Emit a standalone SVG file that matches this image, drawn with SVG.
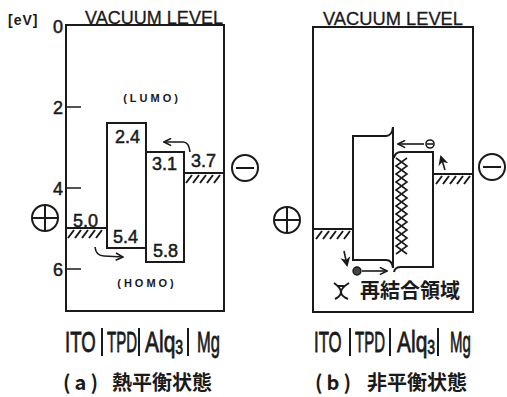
<svg xmlns="http://www.w3.org/2000/svg" width="507" height="397" viewBox="0 0 507 397">
<style>
.ln{fill:none;stroke:#1a1a1a;stroke-width:2}
.th{fill:none;stroke:#1a1a1a;stroke-width:1.6}
.ht{fill:none;stroke:#1a1a1a;stroke-width:2}
.t{font-family:"Liberation Sans",Arial,sans-serif;fill:#1a1a1a}
.num{font-size:18px;stroke:#1a1a1a;stroke-width:0.5}
.cj{font-family:"Noto Sans CJK JP","Noto Sans CJK SC",sans-serif;font-weight:bold;fill:#1a1a1a}
.lab{font-family:"Liberation Sans",Arial,sans-serif;font-size:30px;fill:#1a1a1a;stroke:#1a1a1a;stroke-width:0.8}
</style>
<defs>
<marker id="ah" viewBox="0 0 10 10" refX="9" refY="5" markerWidth="9" markerHeight="9" markerUnits="userSpaceOnUse" orient="auto">
<path d="M1,1 L9,5 L1,9" fill="none" stroke="#1a1a1a" stroke-width="1.8"/>
</marker>
<marker id="af" viewBox="0 0 10 10" refX="8" refY="5" markerWidth="10" markerHeight="10" markerUnits="userSpaceOnUse" orient="auto">
<path d="M0,0 L10,5 L0,10 L3,5 Z" fill="#1a1a1a"/>
</marker>
</defs>

<!-- axis labels -->
<text class="t" x="8" y="25" font-size="14" font-weight="bold" letter-spacing="1">[eV]</text>
<text class="t num" x="53" y="33">0</text>
<text class="t num" x="53" y="114">2</text>
<text class="t num" x="53" y="195">4</text>
<text class="t num" x="53" y="276">6</text>

<!-- Panel (a) -->
<g id="panel-a">
<rect class="ln" x="66" y="25" width="158" height="286"/>
<text class="t" x="85" y="24" font-size="19" stroke="#1a1a1a" stroke-width="0.3" textLength="138" lengthAdjust="spacingAndGlyphs">VACUUM LEVEL</text>
<path class="th" d="M66,107 H81 M66,188 H81 M66,269 H81"/>
<text class="t" x="152" y="102" font-size="11" font-weight="bold" letter-spacing="3" text-anchor="middle">(LUMO)</text>
<text class="t" x="147" y="287" font-size="11" font-weight="bold" letter-spacing="3" text-anchor="middle">(HOMO)</text>
</g>
<g id="ito-a">
<path class="ln" d="M66,228 H107"/>
<path class="ht" d="M68,238 L74,230 M75,238 L81,230 M82,238 L88,230 M89,238 L95,230 M96,238 L102,230"/>
<text class="t num" x="73" y="227">5.0</text>
</g>
<g id="tpd-a">
<rect class="ln" x="107" y="123" width="39" height="125"/>
<text class="t num" x="115" y="143">2.4</text>
<text class="t num" x="113" y="243">5.4</text>
</g>
<g id="alq-a">
<rect class="ln" x="146" y="152" width="38" height="110"/>
<text class="t num" x="152" y="170">3.1</text>
<text class="t num" x="153" y="257">5.8</text>
</g>
<g id="mg-a">
<path class="ln" d="M184,173 H224"/>
<path class="ht" d="M186,183 L192,175 M193,183 L199,175 M200,183 L206,175 M207,183 L213,175 M214,183 L220,175"/>
<text class="t num" x="191" y="167">3.7</text>
</g>
<g id="plus-a">
<circle class="ln" cx="45" cy="218" r="13"/>
<path class="ln" d="M32,218 H58 M45,205 V231" stroke-width="2.5"/>
</g>
<g id="minus-a">
<circle class="ln" cx="245" cy="168" r="13"/>
<path class="ln" d="M236,168 H254" stroke-width="3"/>
</g>

<!-- Panel (b) -->
<g id="panel-b">
<rect class="ln" x="313" y="27" width="160" height="285"/>
<text class="t" x="323" y="25" font-size="19" stroke="#1a1a1a" stroke-width="0.3" textLength="140" lengthAdjust="spacingAndGlyphs">VACUUM LEVEL</text>
</g>
<g id="ito-b">
<path class="ln" d="M313,229 H353"/>
<path class="ht" d="M316,239 L322,231 M323,239 L329,231 M330,239 L336,231 M337,239 L343,231 M344,239 L350,231"/>
</g>
<g id="tpd-b">
<path class="ln" d="M393,127 Q392,136 386,136 L353,136 L353,260 L386,260 Q392,260 393,268"/>
<path class="ln" d="M393,127 V268"/>
</g>
<g id="alq-b">
<path class="ln" d="M394,158 Q395,152 401,152 L433,152 L433,267 L401,267 Q395,267 394,272"/>
</g>
<g id="recomb-b">
<polyline class="th" stroke-width="1.4" points="396,158 407,166 396,174 407,182 396,190 407,198 396,206 407,214 396,222 407,230 396,238 407,246 396,254"/>
<polyline class="th" stroke-width="1.4" points="407,158 396,166 407,174 396,182 407,190 396,198 407,206 396,214 407,222 396,230 407,238 396,246 407,254"/>
</g>
<g id="mg-b">
<path class="ln" d="M433,174 H473"/>
<path class="ht" d="M436,184 L442,176 M443,184 L449,176 M450,184 L456,176 M457,184 L463,176 M464,184 L470,176"/>
</g>
<g id="plus-b">
<circle class="ln" cx="287" cy="220" r="13"/>
<path class="ln" d="M274,220 H300 M287,207 V233" stroke-width="2.5"/>
</g>
<g id="minus-b">
<circle class="ln" cx="492" cy="167" r="13"/>
<path class="ln" d="M483,167 H501" stroke-width="3"/>
</g>
<g id="electron-b">
<circle class="th" cx="430" cy="144" r="4"/>
<path class="th" d="M427,144 H433"/>
</g>
<g id="hole-b">
<circle cx="357" cy="271" r="4" fill="#444" stroke="#1a1a1a" stroke-width="1.4"/>
</g>
<g id="legend-b">
<path class="ln" d="M334,283 Q341,288 341,292 Q341,296 335,299 M349,283 Q341,288 341,292 Q341,296 348,299 M337,286 L345,286"/>
<text class="cj" x="360" y="298" font-size="20">再結合領域</text>
</g>

<!-- connectors -->
<g id="connectors">
<path class="th" stroke-width="1.8" d="M190,152 Q189,142 183,142 L164,142" marker-end="url(#ah)"/>
<path class="th" stroke-width="1.8" d="M95,247 Q96,256 104,256 L123,257" marker-end="url(#ah)"/>
<path class="th" stroke-width="1.8" d="M424,144 L398,144" marker-end="url(#ah)"/>
<path class="th" stroke-width="1.8" d="M362,271 L387,271" marker-end="url(#ah)"/>
<path class="th" stroke-width="2.4" d="M445,170 L441,157" marker-end="url(#af)"/>
<path class="th" stroke-width="2.4" d="M344,251 L347,265" marker-end="url(#af)"/>
</g>

<!-- material labels -->
<g id="labels-a">
<text class="lab" transform="translate(65,352) scale(0.62,1)">ITO</text>
<text class="lab" transform="translate(107,352) scale(0.5,1)">TPD</text>
<text class="lab" transform="translate(145,352) scale(0.7,1)">Alq<tspan font-size="20" dy="2">3</tspan></text>
<text class="lab" transform="translate(197,352) scale(0.55,1)">Mg</text>
<path class="ln" d="M102,328 V356 M139,328 V356 M188,328 V356"/>
<text class="cj" y="390" font-size="20"><tspan x="63" letter-spacing="4">(a)</tspan><tspan x="112">熱平衡状態</tspan></text>
</g>
<g id="labels-b">
<text class="lab" transform="translate(314,352) scale(0.56,1)">ITO</text>
<text class="lab" transform="translate(355,352) scale(0.5,1)">TPD</text>
<text class="lab" transform="translate(397,352) scale(0.7,1)">Alq<tspan font-size="20" dy="2">3</tspan></text>
<text class="lab" transform="translate(450,352) scale(0.5,1)">Mg</text>
<path class="ln" d="M350,328 V356 M390,328 V356 M438,328 V356"/>
<text class="cj" y="390" font-size="20"><tspan x="315" letter-spacing="4">(b)</tspan><tspan x="367">非平衡状態</tspan></text>
</g>
</svg>
